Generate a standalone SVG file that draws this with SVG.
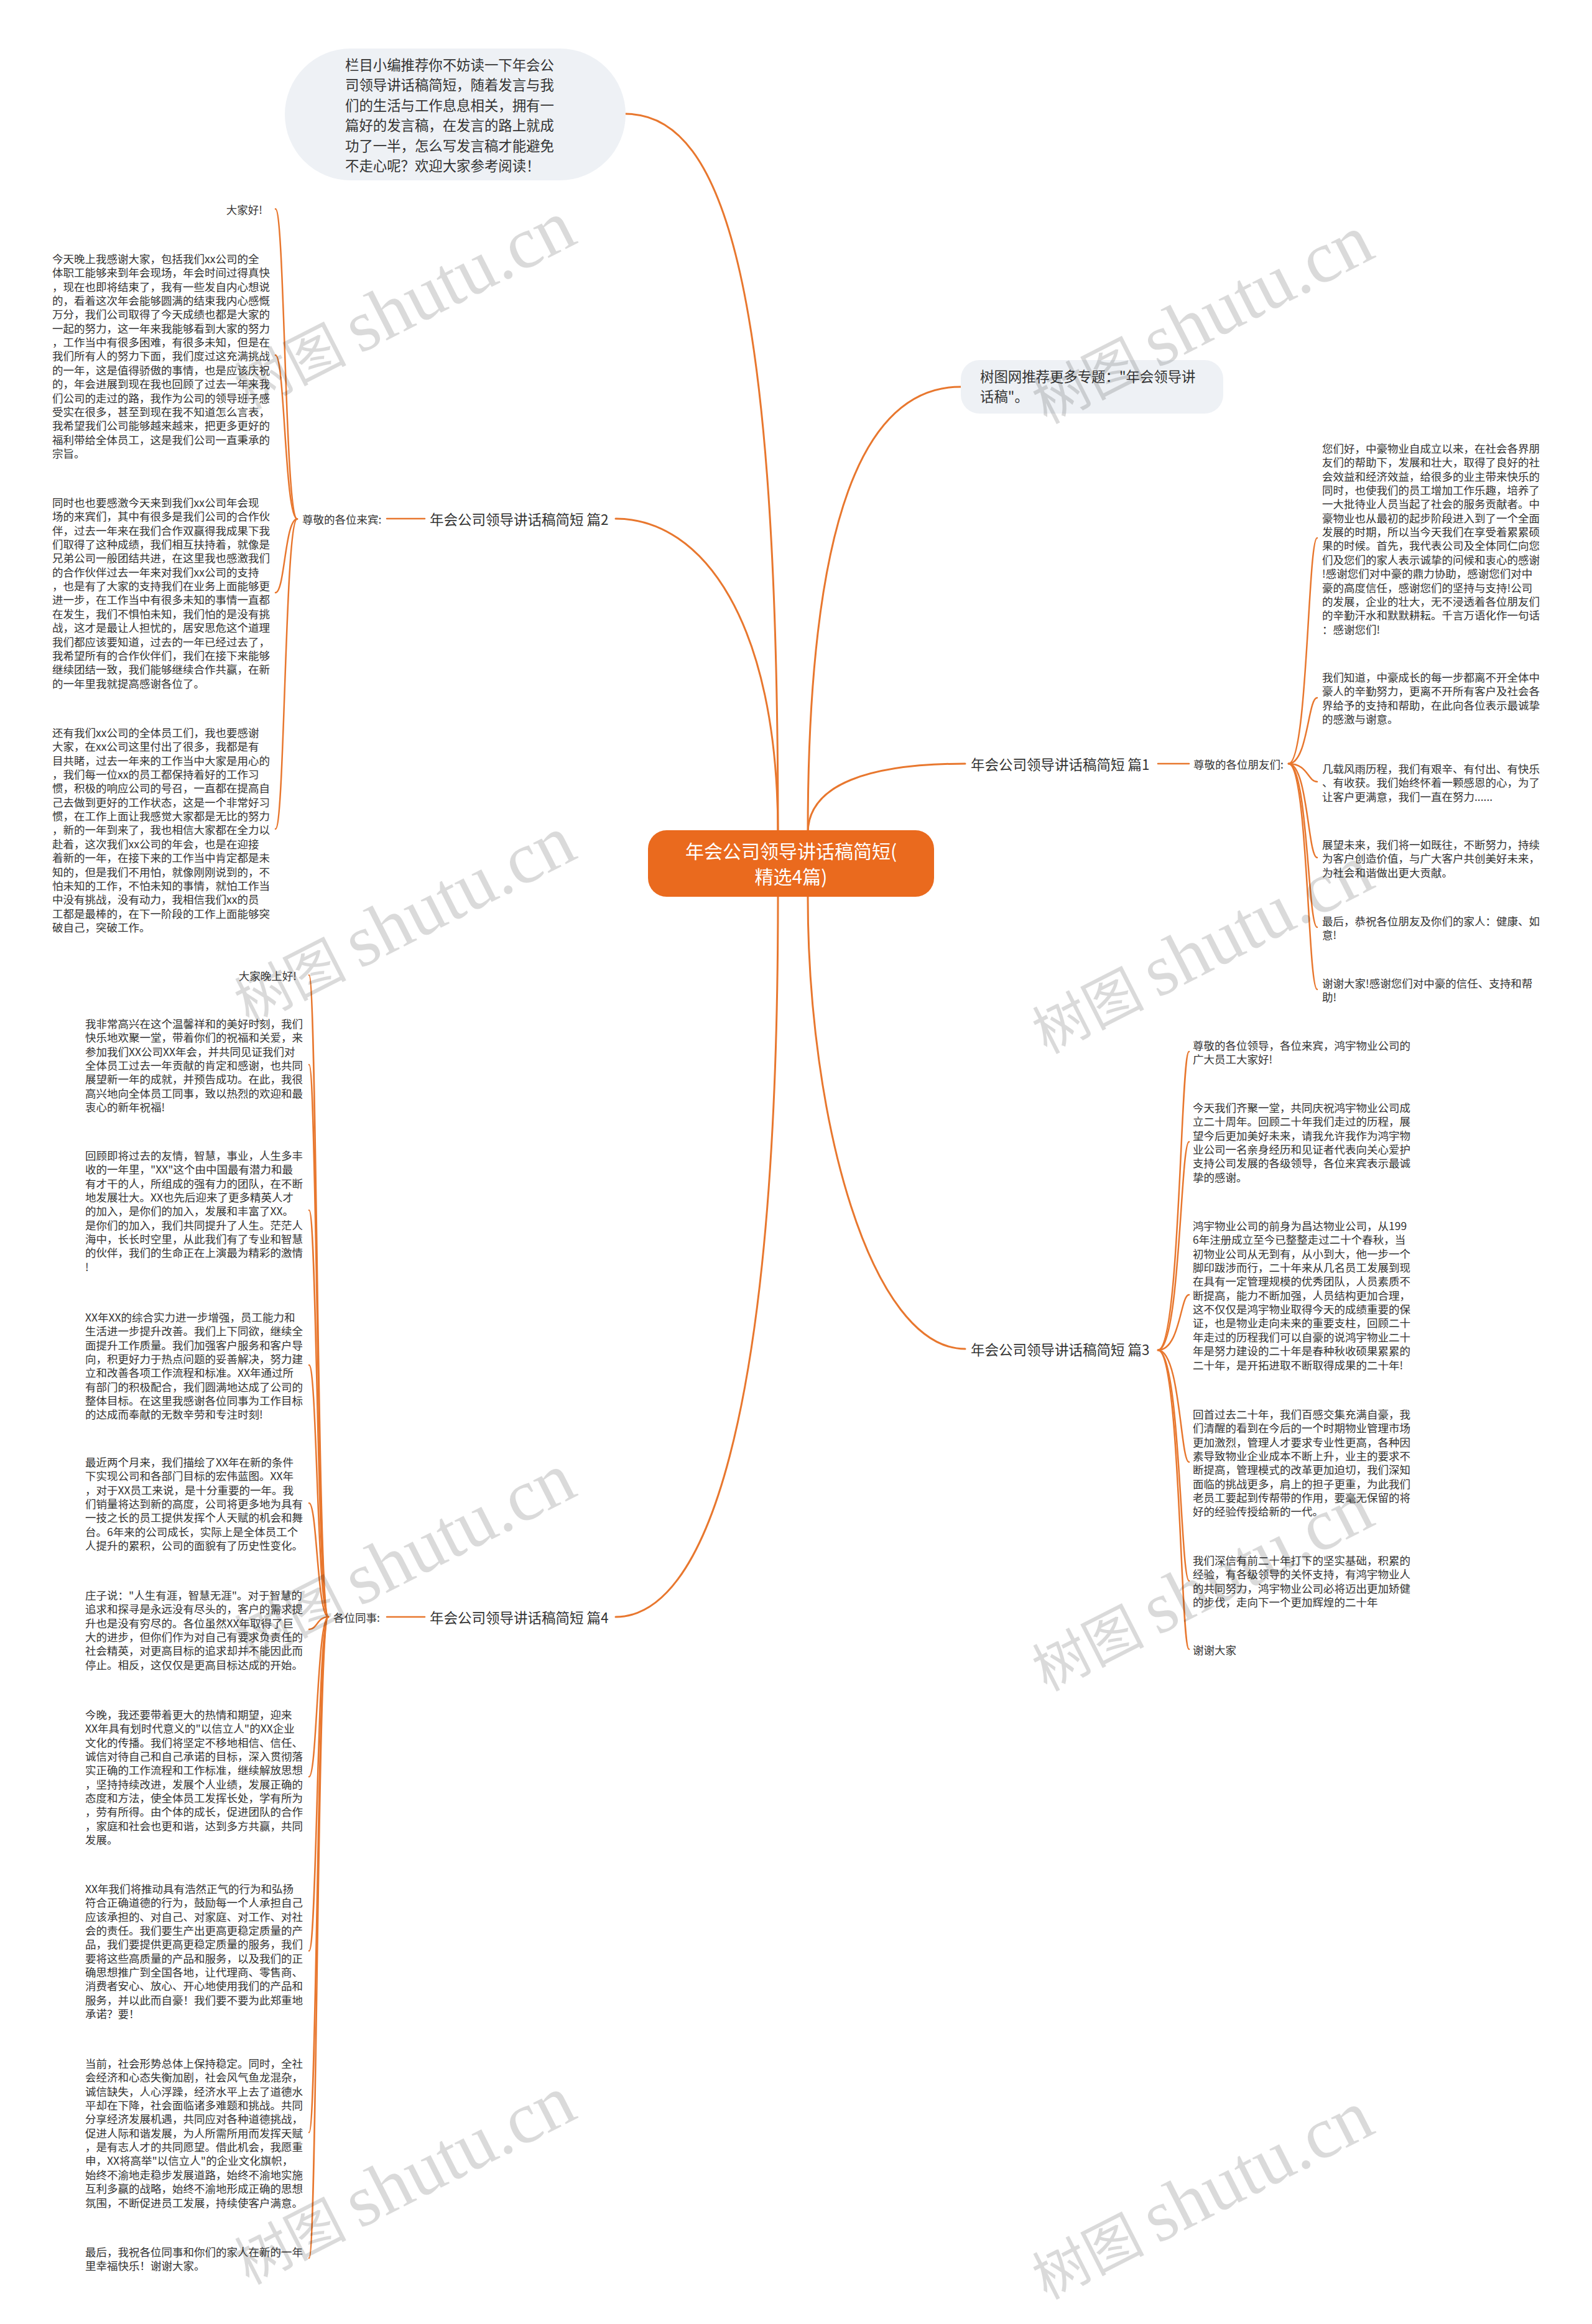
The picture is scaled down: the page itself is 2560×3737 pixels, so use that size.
<svg xmlns="http://www.w3.org/2000/svg" width="2560" height="3737" viewBox="0 0 2560 3737">
<style>
text{font-family:"Noto Sans CJK SC","Noto Sans",sans-serif;fill:#333;dominant-baseline:central}
.p{font-size:17.5px}
.l1{font-size:22.5px}
.big{font-size:22.4px}
.ctr{font-size:30px;fill:#fff;text-anchor:middle}
.c{fill:none;stroke:#e8772e;stroke-width:3;stroke-linecap:round}
.b{fill:none;stroke:#e8772e;stroke-width:2.5;stroke-linecap:round}
.wm{fill:#000;opacity:0.14;font-size:90px;text-anchor:middle}
.wm tspan.s{font-family:"Liberation Serif",serif;font-size:118px}
</style>
<rect width="2560" height="3737" fill="#fff"/>
<g id="connectors">
<path class="c" d="M1006,183 C1170,183 1251,480 1251,1340"/>
<path class="c" d="M1545,622 C1390,622 1299,830 1299,1340"/>
<path class="c" d="M1552,1228 C1400,1228 1299,1260 1299,1340"/>
<path class="c" d="M1552,2169 C1400,2169 1299,1800 1299,1442"/>
<path class="c" d="M990,834 C1130,834 1251,1000 1251,1340"/>
<path class="c" d="M990,2600 C1130,2600 1251,2300 1251,1442"/>
<path class="b" d="M622,834 H683"/>
<path class="b" d="M622,2600 H683"/>
<path class="b" d="M1862,1228 H1912"/>
<path class="b" d="M478,834.5 C458,834.5 458,336 443,336"/>
<path class="b" d="M478,834.5 C458,834.5 458,571 443,571"/>
<path class="b" d="M478,834.5 C458,834.5 458,953 443,953"/>
<path class="b" d="M478,834.5 C458,834.5 458,1333 443,1333"/>
<path class="b" d="M528,2600 C510,2600 510,1568 497,1568"/>
<path class="b" d="M528,2600 C510,2600 510,1712 497,1712"/>
<path class="b" d="M528,2600 C510,2600 510,1946 497,1946"/>
<path class="b" d="M528,2600 C510,2600 510,2195 497,2195"/>
<path class="b" d="M528,2600 C510,2600 510,2417 497,2417"/>
<path class="b" d="M528,2600 C510,2600 510,2620 497,2620"/>
<path class="b" d="M528,2600 C510,2600 510,2857 497,2857"/>
<path class="b" d="M528,2600 C510,2600 510,3137 497,3137"/>
<path class="b" d="M528,2600 C510,2600 510,3429 497,3429"/>
<path class="b" d="M528,2600 C510,2600 510,3631 497,3631"/>
<path class="b" d="M2072,1228 C2103,1228 2103,865 2118,865"/>
<path class="b" d="M2072,1228 C2103,1228 2103,1122 2118,1122"/>
<path class="b" d="M2072,1228 C2103,1228 2103,1257 2118,1257"/>
<path class="b" d="M2072,1228 C2103,1228 2103,1379 2118,1379"/>
<path class="b" d="M2072,1228 C2103,1228 2103,1491 2118,1491"/>
<path class="b" d="M2072,1228 C2103,1228 2103,1591 2118,1591"/>
<path class="b" d="M1862,2171 C1898,2171 1898,1691 1912,1691"/>
<path class="b" d="M1862,2171 C1898,2171 1898,1836 1912,1836"/>
<path class="b" d="M1862,2171 C1898,2171 1898,2082 1912,2082"/>
<path class="b" d="M1862,2171 C1898,2171 1898,2351 1912,2351"/>
<path class="b" d="M1862,2171 C1898,2171 1898,2542 1912,2542"/>
<path class="b" d="M1862,2171 C1898,2171 1898,2652 1912,2652"/>
</g>

<g id="center">
<rect x="1042" y="1335" width="460" height="107" rx="30" fill="#ea6a1e"/>
<text class="ctr"><tspan x="1272" y="1367">年会公司领导讲话稿简短(</tspan><tspan x="1272" y="1408">精选4篇)</tspan></text>
</g>

<g id="intro">
<rect x="458" y="78" width="548" height="212" rx="106" fill="#eef1f5"/>
<text class="big"><tspan x="555" y="103">栏目小编推荐你不妨读一下年会公</tspan><tspan x="555" dy="32.4">司领导讲话稿简短，随着发言与我</tspan><tspan x="555" dy="32.4">们的生活与工作息息相关，拥有一</tspan><tspan x="555" dy="32.4">篇好的发言稿，在发言的路上就成</tspan><tspan x="555" dy="32.4">功了一半，怎么写发言稿才能避免</tspan><tspan x="555" dy="32.4">不走心呢？欢迎大家参考阅读！</tspan></text>
</g>

<g id="topic">
<rect x="1545" y="579" width="422" height="86" rx="30" fill="#eef1f5"/>
<text class="big"><tspan x="1576" y="604">树图网推荐更多专题："年会领导讲</tspan><tspan x="1576" dy="32.4">话稿"。</tspan></text>
</g>

<g id="b1"><text class="l1" x="1561" y="1228">年会公司领导讲话稿简短 篇1</text></g>
<g id="b2"><text class="l1" x="691" y="834">年会公司领导讲话稿简短 篇2</text></g>
<g id="b3"><text class="l1" x="1561" y="2169">年会公司领导讲话稿简短 篇3</text></g>
<g id="b4"><text class="l1" x="691" y="2600">年会公司领导讲话稿简短 篇4</text></g>

<g id="b1-sub"><text class="p" x="1919" y="1228">尊敬的各位朋友们:</text></g>
<g id="b2-sub"><text class="p" x="486" y="834">尊敬的各位来宾:</text></g>
<g id="b4-sub"><text class="p" x="536" y="2600">各位同事:</text></g>

<g id="b2-p0"><text class="p" x="422" y="336" text-anchor="end">大家好!</text></g>
<g id="b2-p1"><text class="p"><tspan x="84" y="415">今天晚上我感谢大家，包括我们xx公司的全</tspan><tspan x="84" dy="22.35">体职工能够来到年会现场，年会时间过得真快</tspan><tspan x="84" dy="22.35">，现在也即将结束了，我有一些发自内心想说</tspan><tspan x="84" dy="22.35">的，看着这次年会能够圆满的结束我内心感慨</tspan><tspan x="84" dy="22.35">万分，我们公司取得了今天成绩也都是大家的</tspan><tspan x="84" dy="22.35">一起的努力，这一年来我能够看到大家的努力</tspan><tspan x="84" dy="22.35">，工作当中有很多困难，有很多未知，但是在</tspan><tspan x="84" dy="22.35">我们所有人的努力下面，我们度过这充满挑战</tspan><tspan x="84" dy="22.35">的一年，这是值得骄傲的事情，也是应该庆祝</tspan><tspan x="84" dy="22.35">的，年会进展到现在我也回顾了过去一年来我</tspan><tspan x="84" dy="22.35">们公司的走过的路，我作为公司的领导班子感</tspan><tspan x="84" dy="22.35">受实在很多，甚至到现在我不知道怎么言表，</tspan><tspan x="84" dy="22.35">我希望我们公司能够越来越来，把更多更好的</tspan><tspan x="84" dy="22.35">福利带给全体员工，这是我们公司一直秉承的</tspan><tspan x="84" dy="22.35">宗旨。</tspan></text></g>
<g id="b2-p2"><text class="p"><tspan x="84" y="807">同时也也要感激今天来到我们xx公司年会现</tspan><tspan x="84" dy="22.35">场的来宾们，其中有很多是我们公司的合作伙</tspan><tspan x="84" dy="22.35">伴，过去一年来在我们合作双赢得我成果下我</tspan><tspan x="84" dy="22.35">们取得了这种成绩，我们相互扶持着，就像是</tspan><tspan x="84" dy="22.35">兄弟公司一般团结共进，在这里我也感激我们</tspan><tspan x="84" dy="22.35">的合作伙伴过去一年来对我们xx公司的支持</tspan><tspan x="84" dy="22.35">，也是有了大家的支持我们在业务上面能够更</tspan><tspan x="84" dy="22.35">进一步，在工作当中有很多未知的事情一直都</tspan><tspan x="84" dy="22.35">在发生，我们不惧怕未知，我们怕的是没有挑</tspan><tspan x="84" dy="22.35">战，这才是最让人担忧的，居安思危这个道理</tspan><tspan x="84" dy="22.35">我们都应该要知道，过去的一年已经过去了，</tspan><tspan x="84" dy="22.35">我希望所有的合作伙伴们，我们在接下来能够</tspan><tspan x="84" dy="22.35">继续团结一致，我们能够继续合作共赢，在新</tspan><tspan x="84" dy="22.35">的一年里我就提高感谢各位了。</tspan></text></g>
<g id="b2-p3"><text class="p"><tspan x="84" y="1177">还有我们xx公司的全体员工们，我也要感谢</tspan><tspan x="84" dy="22.35">大家，在xx公司这里付出了很多，我都是有</tspan><tspan x="84" dy="22.35">目共睹，过去一年来的工作当中大家是用心的</tspan><tspan x="84" dy="22.35">，我们每一位xx的员工都保持着好的工作习</tspan><tspan x="84" dy="22.35">惯，积极的响应公司的号召，一直都在提高自</tspan><tspan x="84" dy="22.35">己去做到更好的工作状态，这是一个非常好习</tspan><tspan x="84" dy="22.35">惯，在工作上面让我感觉大家都是无比的努力</tspan><tspan x="84" dy="22.35">，新的一年到来了，我也相信大家都在全力以</tspan><tspan x="84" dy="22.35">赴着，这次我们xx公司的年会，也是在迎接</tspan><tspan x="84" dy="22.35">着新的一年，在接下来的工作当中肯定都是未</tspan><tspan x="84" dy="22.35">知的，但是我们不用怕，就像刚刚说到的，不</tspan><tspan x="84" dy="22.35">怕未知的工作，不怕未知的事情，就怕工作当</tspan><tspan x="84" dy="22.35">中没有挑战，没有动力，我相信我们xx的员</tspan><tspan x="84" dy="22.35">工都是最棒的，在下一阶段的工作上面能够突</tspan><tspan x="84" dy="22.35">破自己，突破工作。</tspan></text></g>

<g id="b4-p0"><text class="p" x="477" y="1568" text-anchor="end">大家晚上好!</text></g>
<g id="b4-p1"><text class="p"><tspan x="137" y="1645">我非常高兴在这个温馨祥和的美好时刻，我们</tspan><tspan x="137" dy="22.35">快乐地欢聚一堂，带着你们的祝福和关爱，来</tspan><tspan x="137" dy="22.35">参加我们XX公司XX年会，并共同见证我们对</tspan><tspan x="137" dy="22.35">全体员工过去一年贡献的肯定和感谢，也共同</tspan><tspan x="137" dy="22.35">展望新一年的成就，并预告成功。在此，我很</tspan><tspan x="137" dy="22.35">高兴地向全体员工同事，致以热烈的欢迎和最</tspan><tspan x="137" dy="22.35">衷心的新年祝福!</tspan></text></g>
<g id="b4-p2"><text class="p"><tspan x="137" y="1857">回顾即将过去的友情，智慧，事业，人生多丰</tspan><tspan x="137" dy="22.35">收的一年里，"XX"这个由中国最有潜力和最</tspan><tspan x="137" dy="22.35">有才干的人，所组成的强有力的团队，在不断</tspan><tspan x="137" dy="22.35">地发展壮大。XX也先后迎来了更多精英人才</tspan><tspan x="137" dy="22.35">的加入，是你们的加入，发展和丰富了XX。</tspan><tspan x="137" dy="22.35">是你们的加入，我们共同提升了人生。茫茫人</tspan><tspan x="137" dy="22.35">海中，长长时空里，从此我们有了专业和智慧</tspan><tspan x="137" dy="22.35">的伙伴，我们的生命正在上演最为精彩的激情</tspan><tspan x="137" dy="22.35">!</tspan></text></g>
<g id="b4-p3"><text class="p"><tspan x="137" y="2117">XX年XX的综合实力进一步增强，员工能力和</tspan><tspan x="137" dy="22.35">生活进一步提升改善。我们上下同欲，继续全</tspan><tspan x="137" dy="22.35">面提升工作质量。我们加强客户服务和客户导</tspan><tspan x="137" dy="22.35">向，积更好力于热点问题的妥善解决，努力建</tspan><tspan x="137" dy="22.35">立和改善各项工作流程和标准。XX年通过所</tspan><tspan x="137" dy="22.35">有部门的积极配合，我们圆满地达成了公司的</tspan><tspan x="137" dy="22.35">整体目标。在这里我感谢各位同事为工作目标</tspan><tspan x="137" dy="22.35">的达成而奉献的无数辛劳和专注时刻!</tspan></text></g>
<g id="b4-p4"><text class="p"><tspan x="137" y="2350">最近两个月来，我们描绘了XX年在新的条件</tspan><tspan x="137" dy="22.35">下实现公司和各部门目标的宏伟蓝图。XX年</tspan><tspan x="137" dy="22.35">，对于XX员工来说，是十分重要的一年。我</tspan><tspan x="137" dy="22.35">们销量将达到新的高度，公司将更多地为具有</tspan><tspan x="137" dy="22.35">一技之长的员工提供发挥个人天赋的机会和舞</tspan><tspan x="137" dy="22.35">台。6年来的公司成长，实际上是全体员工个</tspan><tspan x="137" dy="22.35">人提升的累积，公司的面貌有了历史性变化。</tspan></text></g>
<g id="b4-p5"><text class="p"><tspan x="137" y="2564">庄子说："人生有涯，智慧无涯"。对于智慧的</tspan><tspan x="137" dy="22.35">追求和探寻是永远没有尽头的，客户的需求提</tspan><tspan x="137" dy="22.35">升也是没有穷尽的。各位虽然XX年取得了巨</tspan><tspan x="137" dy="22.35">大的进步，但你们作为对自己有要求负责任的</tspan><tspan x="137" dy="22.35">社会精英，对更高目标的追求却并不能因此而</tspan><tspan x="137" dy="22.35">停止。相反，这仅仅是更高目标达成的开始。</tspan></text></g>
<g id="b4-p6"><text class="p"><tspan x="137" y="2756">今晚，我还要带着更大的热情和期望，迎来</tspan><tspan x="137" dy="22.35">XX年具有划时代意义的"以信立人"的XX企业</tspan><tspan x="137" dy="22.35">文化的传播。我们将坚定不移地相信、信任、</tspan><tspan x="137" dy="22.35">诚信对待自己和自己承诺的目标，深入贯彻落</tspan><tspan x="137" dy="22.35">实正确的工作流程和工作标准，继续解放思想</tspan><tspan x="137" dy="22.35">，坚持持续改进，发展个人业绩，发展正确的</tspan><tspan x="137" dy="22.35">态度和方法，使全体员工发挥长处，学有所为</tspan><tspan x="137" dy="22.35">，劳有所得。由个体的成长，促进团队的合作</tspan><tspan x="137" dy="22.35">，家庭和社会也更和谐，达到多方共赢，共同</tspan><tspan x="137" dy="22.35">发展。</tspan></text></g>
<g id="b4-p7"><text class="p"><tspan x="137" y="3036">XX年我们将推动具有浩然正气的行为和弘扬</tspan><tspan x="137" dy="22.35">符合正确道德的行为，鼓励每一个人承担自己</tspan><tspan x="137" dy="22.35">应该承担的、对自己、对家庭、对工作、对社</tspan><tspan x="137" dy="22.35">会的责任。我们要生产出更高更稳定质量的产</tspan><tspan x="137" dy="22.35">品，我们要提供更高更稳定质量的服务，我们</tspan><tspan x="137" dy="22.35">要将这些高质量的产品和服务，以及我们的正</tspan><tspan x="137" dy="22.35">确思想推广到全国各地，让代理商、零售商、</tspan><tspan x="137" dy="22.35">消费者安心、放心、开心地使用我们的产品和</tspan><tspan x="137" dy="22.35">服务，并以此而自豪！我们要不要为此郑重地</tspan><tspan x="137" dy="22.35">承诺？要！</tspan></text></g>
<g id="b4-p8"><text class="p"><tspan x="137" y="3317">当前，社会形势总体上保持稳定。同时，全社</tspan><tspan x="137" dy="22.35">会经济和心态失衡加剧，社会风气鱼龙混杂，</tspan><tspan x="137" dy="22.35">诚信缺失，人心浮躁，经济水平上去了道德水</tspan><tspan x="137" dy="22.35">平却在下降，社会面临诸多难题和挑战。共同</tspan><tspan x="137" dy="22.35">分享经济发展机遇，共同应对各种道德挑战，</tspan><tspan x="137" dy="22.35">促进人际和谐发展，为人所需所用而发挥天赋</tspan><tspan x="137" dy="22.35">，是有志人才的共同愿望。借此机会，我愿重</tspan><tspan x="137" dy="22.35">申，XX将高举"以信立人"的企业文化旗帜，</tspan><tspan x="137" dy="22.35">始终不渝地走稳步发展道路，始终不渝地实施</tspan><tspan x="137" dy="22.35">互利多赢的战略，始终不渝地形成正确的思想</tspan><tspan x="137" dy="22.35">氛围，不断促进员工发展，持续使客户满意。</tspan></text></g>
<g id="b4-p9"><text class="p"><tspan x="137" y="3620">最后，我祝各位同事和你们的家人在新的一年</tspan><tspan x="137" dy="22.35">里幸福快乐！谢谢大家。</tspan></text></g>

<g id="b1-p1"><text class="p"><tspan x="2126" y="720">您们好，中豪物业自成立以来，在社会各界朋</tspan><tspan x="2126" dy="22.35">友们的帮助下，发展和壮大，取得了良好的社</tspan><tspan x="2126" dy="22.35">会效益和经济效益，给很多的业主带来快乐的</tspan><tspan x="2126" dy="22.35">同时，也使我们的员工增加工作乐趣，培养了</tspan><tspan x="2126" dy="22.35">一大批待业人员当起了社会的服务贡献者。中</tspan><tspan x="2126" dy="22.35">豪物业也从最初的起步阶段进入到了一个全面</tspan><tspan x="2126" dy="22.35">发展的时期，所以当今天我们在享受着累累硕</tspan><tspan x="2126" dy="22.35">果的时候。首先，我代表公司及全体同仁向您</tspan><tspan x="2126" dy="22.35">们及您们的家人表示诚挚的问候和衷心的感谢</tspan><tspan x="2126" dy="22.35">!感谢您们对中豪的鼎力协助，感谢您们对中</tspan><tspan x="2126" dy="22.35">豪的高度信任，感谢您们的坚持与支持!公司</tspan><tspan x="2126" dy="22.35">的发展，企业的壮大，无不浸透着各位朋友们</tspan><tspan x="2126" dy="22.35">的辛勤汗水和默默耕耘。千言万语化作一句话</tspan><tspan x="2126" dy="22.35">：感谢您们!</tspan></text></g>
<g id="b1-p2"><text class="p"><tspan x="2126" y="1088">我们知道，中豪成长的每一步都离不开全体中</tspan><tspan x="2126" dy="22.35">豪人的辛勤努力，更离不开所有客户及社会各</tspan><tspan x="2126" dy="22.35">界给予的支持和帮助，在此向各位表示最诚挚</tspan><tspan x="2126" dy="22.35">的感激与谢意。</tspan></text></g>
<g id="b1-p3"><text class="p"><tspan x="2126" y="1235">几载风雨历程，我们有艰辛、有付出、有快乐</tspan><tspan x="2126" dy="22.35">、有收获。我们始终怀着一颗感恩的心，为了</tspan><tspan x="2126" dy="22.35">让客户更满意，我们一直在努力......</tspan></text></g>
<g id="b1-p4"><text class="p"><tspan x="2126" y="1357">展望未来，我们将一如既往，不断努力，持续</tspan><tspan x="2126" dy="22.35">为客户创造价值，与广大客户共创美好未来，</tspan><tspan x="2126" dy="22.35">为社会和谐做出更大贡献。</tspan></text></g>
<g id="b1-p5"><text class="p"><tspan x="2126" y="1480">最后，恭祝各位朋友及你们的家人：健康、如</tspan><tspan x="2126" dy="22.35">意!</tspan></text></g>
<g id="b1-p6"><text class="p"><tspan x="2126" y="1580">谢谢大家!感谢您们对中豪的信任、支持和帮</tspan><tspan x="2126" dy="22.35">助!</tspan></text></g>

<g id="b3-p1"><text class="p"><tspan x="1918" y="1680">尊敬的各位领导，各位来宾，鸿宇物业公司的</tspan><tspan x="1918" dy="22.35">广大员工大家好!</tspan></text></g>
<g id="b3-p2"><text class="p"><tspan x="1918" y="1780">今天我们齐聚一堂，共同庆祝鸿宇物业公司成</tspan><tspan x="1918" dy="22.35">立二十周年。回顾二十年我们走过的历程，展</tspan><tspan x="1918" dy="22.35">望今后更加美好未来，请我允许我作为鸿宇物</tspan><tspan x="1918" dy="22.35">业公司一名亲身经历和见证者代表向关心爱护</tspan><tspan x="1918" dy="22.35">支持公司发展的各级领导，各位来宾表示最诚</tspan><tspan x="1918" dy="22.35">挚的感谢。</tspan></text></g>
<g id="b3-p3"><text class="p"><tspan x="1918" y="1970">鸿宇物业公司的前身为昌达物业公司，从199</tspan><tspan x="1918" dy="22.35">6年注册成立至今已整整走过二十个春秋，当</tspan><tspan x="1918" dy="22.35">初物业公司从无到有，从小到大，他一步一个</tspan><tspan x="1918" dy="22.35">脚印跋涉而行，二十年来从几名员工发展到现</tspan><tspan x="1918" dy="22.35">在具有一定管理规模的优秀团队，人员素质不</tspan><tspan x="1918" dy="22.35">断提高，能力不断加强，人员结构更加合理，</tspan><tspan x="1918" dy="22.35">这不仅仅是鸿宇物业取得今天的成绩重要的保</tspan><tspan x="1918" dy="22.35">证，也是物业走向未来的重要支柱，回顾二十</tspan><tspan x="1918" dy="22.35">年走过的历程我们可以自豪的说鸿宇物业二十</tspan><tspan x="1918" dy="22.35">年是努力建设的二十年是春种秋收硕果累累的</tspan><tspan x="1918" dy="22.35">二十年，是开拓进取不断取得成果的二十年!</tspan></text></g>
<g id="b3-p4"><text class="p"><tspan x="1918" y="2273">回首过去二十年，我们百感交集充满自豪，我</tspan><tspan x="1918" dy="22.35">们清醒的看到在今后的一个时期物业管理市场</tspan><tspan x="1918" dy="22.35">更加激烈，管理人才要求专业性更高，各种因</tspan><tspan x="1918" dy="22.35">素导致物业企业成本不断上升，业主的要求不</tspan><tspan x="1918" dy="22.35">断提高，管理模式的改革更加迫切，我们深知</tspan><tspan x="1918" dy="22.35">面临的挑战更多，肩上的担子更重，为此我们</tspan><tspan x="1918" dy="22.35">老员工要起到传帮带的作用，要毫无保留的将</tspan><tspan x="1918" dy="22.35">好的经验传授给新的一代。</tspan></text></g>
<g id="b3-p5"><text class="p"><tspan x="1918" y="2508">我们深信有前二十年打下的坚实基础，积累的</tspan><tspan x="1918" dy="22.35">经验，有各级领导的关怀支持，有鸿宇物业人</tspan><tspan x="1918" dy="22.35">的共同努力，鸿宇物业公司必将迈出更加矫健</tspan><tspan x="1918" dy="22.35">的步伐，走向下一个更加辉煌的二十年</tspan></text></g>
<g id="b3-p6"><text class="p" x="1918" y="2652">谢谢大家</text></g>

<g id="watermarks">
<text class="wm" transform="translate(648,489) rotate(-27)">树图 <tspan class="s">shutu.cn</tspan></text>
<text class="wm" transform="translate(1931,512) rotate(-27)">树图 <tspan class="s">shutu.cn</tspan></text>
<text class="wm" transform="translate(648,1478) rotate(-27)">树图 <tspan class="s">shutu.cn</tspan></text>
<text class="wm" transform="translate(1931,1525) rotate(-27)">树图 <tspan class="s">shutu.cn</tspan></text>
<text class="wm" transform="translate(648,2503) rotate(-27)">树图 <tspan class="s">shutu.cn</tspan></text>
<text class="wm" transform="translate(1931,2550) rotate(-27)">树图 <tspan class="s">shutu.cn</tspan></text>
<text class="wm" transform="translate(648,3504) rotate(-27)">树图 <tspan class="s">shutu.cn</tspan></text>
<text class="wm" transform="translate(1931,3528) rotate(-27)">树图 <tspan class="s">shutu.cn</tspan></text>
</g>
</svg>
